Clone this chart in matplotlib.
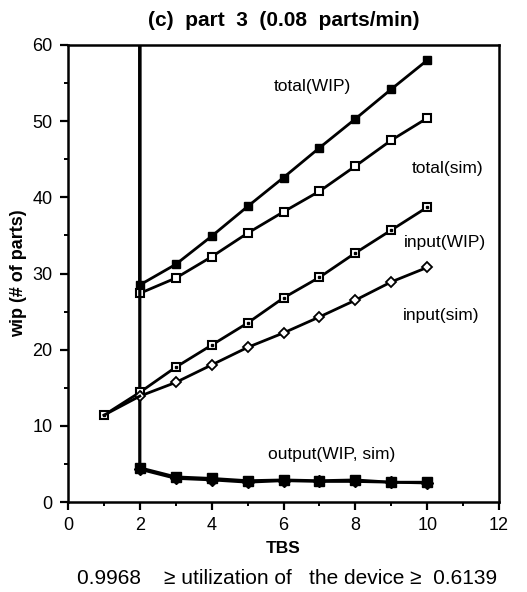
import numpy as np
import matplotlib.pyplot as plt
from matplotlib.ticker import MultipleLocator

plt.rcParams['font.family'] = ['Liberation Sans', 'DejaVu Sans']

# TBS values
tbs = [2, 3, 4, 5, 6, 7, 8, 9, 10]
tbs_in = [1, 2, 3, 4, 5, 6, 7, 8, 9, 10]
# at TBS=2 the totals/outputs jump off the chart (unbounded below 2)
tbs_jump = [2] + tbs
off_chart = 100

total_wip = [off_chart, 28.5, 31.2, 34.9, 38.8, 42.6, 46.5, 50.3, 54.2, 58.0]
total_sim = [off_chart, 27.4, 29.4, 32.2, 35.3, 38.1, 40.8, 44.1, 47.5, 50.4]
input_wip = [11.4, 14.4, 17.7, 20.6, 23.5, 26.8, 29.5, 32.7, 35.7, 38.7]
input_sim = [11.4, 13.9, 15.7, 18.0, 20.3, 22.2, 24.3, 26.5, 28.9, 30.8]
output_wip = [off_chart, 4.5, 3.3, 3.1, 2.8, 2.9, 2.8, 2.9, 2.6, 2.6]
output_sim = [off_chart, 4.3, 3.1, 2.9, 2.6, 2.8, 2.7, 2.7, 2.6, 2.5]

fig = plt.figure(figsize=(5.27, 5.92), dpi=100)
ax = fig.add_axes([0.129, 0.152, 0.818, 0.772])

mk = dict(markevery=slice(1, None), color='k', lw=2, clip_on=True)
ax.plot(tbs_jump, total_wip, marker='s', ms=6, mfc='k', mec='k', **mk)
ax.plot(tbs_jump, total_sim, marker='s', ms=6, mfc='white', mec='k', mew=1.5, **mk)
ax.plot(tbs_jump, output_sim, marker='D', ms=6, mfc='k', mec='k', **mk)
ax.plot(tbs_jump, output_wip, marker='s', ms=6.5, mfc='k', mec='k', **mk)

ax.plot(tbs_in, input_wip, color='k', lw=2, marker='s', ms=6, mfc='white', mec='k', mew=1.5)
ax.plot(tbs_in, input_wip, ls='none', marker='s', ms=1.8, color='k')
ax.plot(tbs_in[1:], input_sim[1:], color='k', lw=2, marker='D', ms=5, mfc='white', mec='k', mew=1.3)
ax.plot(tbs_in[:2], input_sim[:2], color='k', lw=2)

lab = dict(fontsize=12.5, ha='center', va='center')
ax.text(6.8, 54.5, 'total(WIP)', **lab)
ax.text(10.56, 43.8, 'total(sim)', **lab)
ax.text(10.5, 34.1, 'input(WIP)', **lab)
ax.text(10.4, 24.5, 'input(sim)', **lab)
ax.text(7.33, 6.2, 'output(WIP, sim)', **lab)

ax.set_xlim(0, 12)
ax.set_ylim(0, 60)
ax.xaxis.set_major_locator(MultipleLocator(2))
ax.xaxis.set_minor_locator(MultipleLocator(1))
ax.yaxis.set_major_locator(MultipleLocator(10))
ax.yaxis.set_minor_locator(MultipleLocator(5))
ax.tick_params(which='major', direction='out', length=6, width=1.6, labelsize=13, pad=5)
ax.tick_params(which='minor', direction='out', length=3, width=1.4)
for s in ax.spines.values():
    s.set_linewidth(1.8)

ax.set_xlabel('TBS', fontsize=12.5, fontweight='bold', labelpad=5)
ax.set_ylabel('wip (# of parts)', fontsize=13, fontweight='bold', labelpad=4)
ax.set_title('(c)  part  3  (0.08  parts/min)', fontsize=15, fontweight='bold', pad=14)
fig.text(0.545, 0.014, '0.9968    \u2265 utilization of   the device \u2265  0.6139',
         ha='center', fontsize=15)

fig.savefig('out.png', dpi=100)
